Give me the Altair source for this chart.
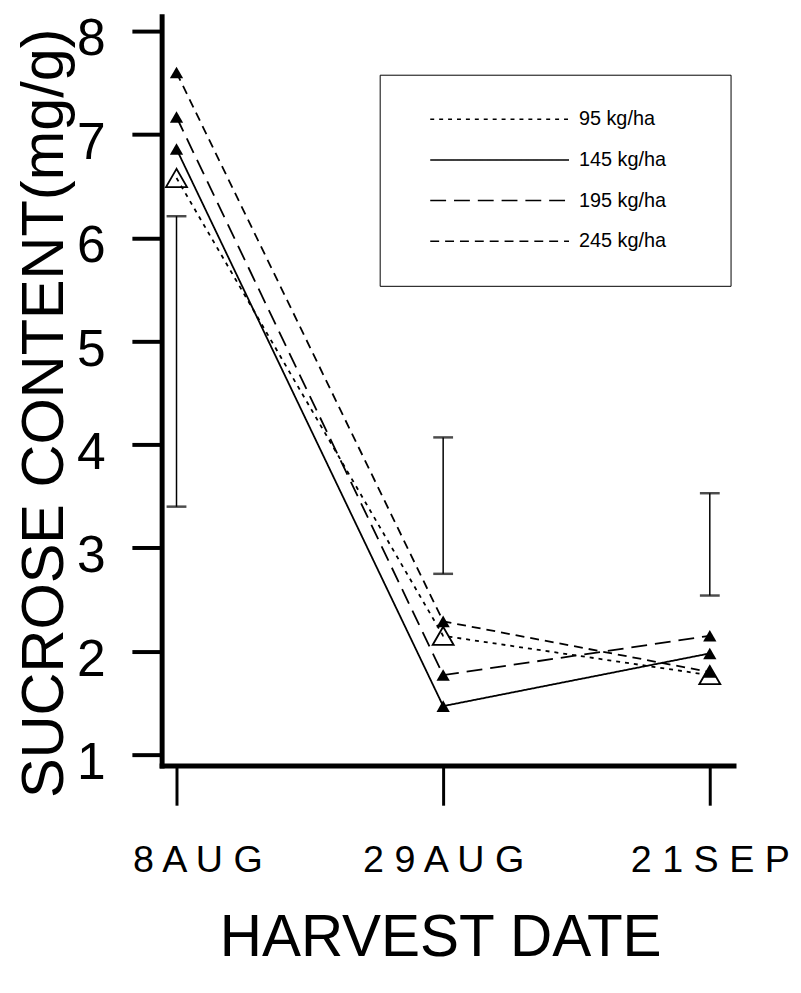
import altair as alt
import pandas as pd

# ---- data ----
date_index = [0, 1, 2]
date_labels = ["8 A U G", "2 9 A U G", "2 1 S E P"]
series_names = ["95 kg/ha", "145 kg/ha", "195 kg/ha", "245 kg/ha"]
sucrose_95 = [6.58, 2.15, 1.77]
sucrose_145 = [6.86, 1.47, 1.98]
sucrose_195 = [7.17, 1.77, 2.15]
sucrose_245 = [7.60, 2.29, 1.80]
lsd_low = [3.40, 2.75, 2.54]
lsd_high = [6.21, 4.07, 3.53]
y_ticks = [1, 2, 3, 4, 5, 6, 7, 8]

rows = []
for name, vals in zip(series_names, [sucrose_95, sucrose_145, sucrose_195, sucrose_245]):
    for i, v in zip(date_index, vals):
        rows.append({"series": name, "date": i, "sucrose": v})
df = pd.DataFrame(rows)
err = pd.DataFrame({"date": date_index, "low": lsd_low, "high": lsd_high})

FONT = "Liberation Sans"
Y_TITLE = "SUCROSE CONTENT(mg/g)"
label_expr = "[" + ",".join("'" + s + "'" for s in date_labels) + "][datum.value]"

xscale = alt.Scale(domain=[-0.0558, 2.089], nice=False, zero=False)
yscale = alt.Scale(domain=[0.895, 8.145], nice=False, zero=False)

x_axis = alt.Axis(
    values=date_index, labelExpr=label_expr, title="HARVEST DATE", grid=False,
    domainWidth=5, domainColor="black", domainCap="square",
    tickSize=40, tickWidth=3, tickColor="black",
    labelFont=FONT, labelFontSize=38, labelColor="black", labelPadding=67,
    labelBaseline="alphabetic", labelAlign="center", labelFlush=False, labelOverlap=False,
    labelOffset={"condition": {"test": "datum.value === 0", "value": 21}, "value": 0},
    titleFont=FONT, titleFontSize=59, titleFontWeight="normal", titleColor="black",
    titleX=281, titleY=192, titleBaseline="alphabetic", titleAlign="center",
)
y_axis = alt.Axis(
    values=y_ticks, format="d", title=Y_TITLE, grid=False,
    domainWidth=5, domainColor="black", domainCap="square",
    tickSize=30, tickWidth=4, tickColor="black",
    labelFont=FONT, labelFontSize=52, labelColor="black", labelPadding=27, labelOffset=8,
    labelBaseline="middle",
    titleFont=FONT, titleFontSize=60, titleFontWeight="normal", titleColor="black",
    titleAngle=270, titleX=-100, titleY=400, titleBaseline="alphabetic", titleAlign="center",
)

X = alt.X("date:Q", scale=xscale, axis=x_axis)
Y = alt.Y("sucrose:Q", scale=yscale, axis=y_axis)

base = alt.Chart(df)

lines = base.mark_line(strokeWidth=1.8, color="black").encode(
    x=X, y=Y,
    strokeDash=alt.StrokeDash(
        "series:N",
        scale=alt.Scale(domain=series_names, range=[[4, 5], [1, 0], [16, 8], [9, 6]]),
        legend=alt.Legend(
            title=None, orient="none", legendX=220, legendY=59, padding=35,
            strokeColor="black", fillColor="white",
            symbolType="M-10,0H10", symbolSize=196, symbolStrokeWidth=1.5,
            symbolStrokeColor="black", symbolOffset=76, labelOffset=70,
            labelFont=FONT, labelFontSize=20, labelColor="black", rowPadding=21,
            labelLimit=400,
            labelExpr="datum.label + '\u2800\u2800'",
        ),
    ),
)

errbars = alt.Chart(err).mark_errorbar(
    ticks={"size": 20, "thickness": 2.5, "color": "black"},
    rule={"strokeWidth": 1.5, "color": "black"},
).encode(
    x=alt.X("date:Q", scale=xscale, title="HARVEST DATE"),
    y=alt.Y("low:Q", scale=yscale, title=Y_TITLE),
    y2="high:Q",
)

open_pts = base.transform_filter(alt.datum.series == series_names[0]).mark_point(
    shape="triangle-up", filled=False, size=450, strokeWidth=1.8, color="black", opacity=1
).encode(x=X, y=Y)

filled_pts = base.transform_filter(alt.datum.series != series_names[0]).mark_point(
    shape="triangle-up", filled=True, size=180, color="black", opacity=1
).encode(x=X, y=Y)

chart = alt.layer(lines, errbars, open_pts, filled_pts).properties(
    width=577, height=756,
    autosize=alt.AutoSizeParams(type="none"),
    padding={"left": 155, "top": 4, "right": 60, "bottom": 205},
    background="white",
).configure_view(stroke=None)

chart.save("out.html", embed_options={"renderer": "svg", "actions": False})
